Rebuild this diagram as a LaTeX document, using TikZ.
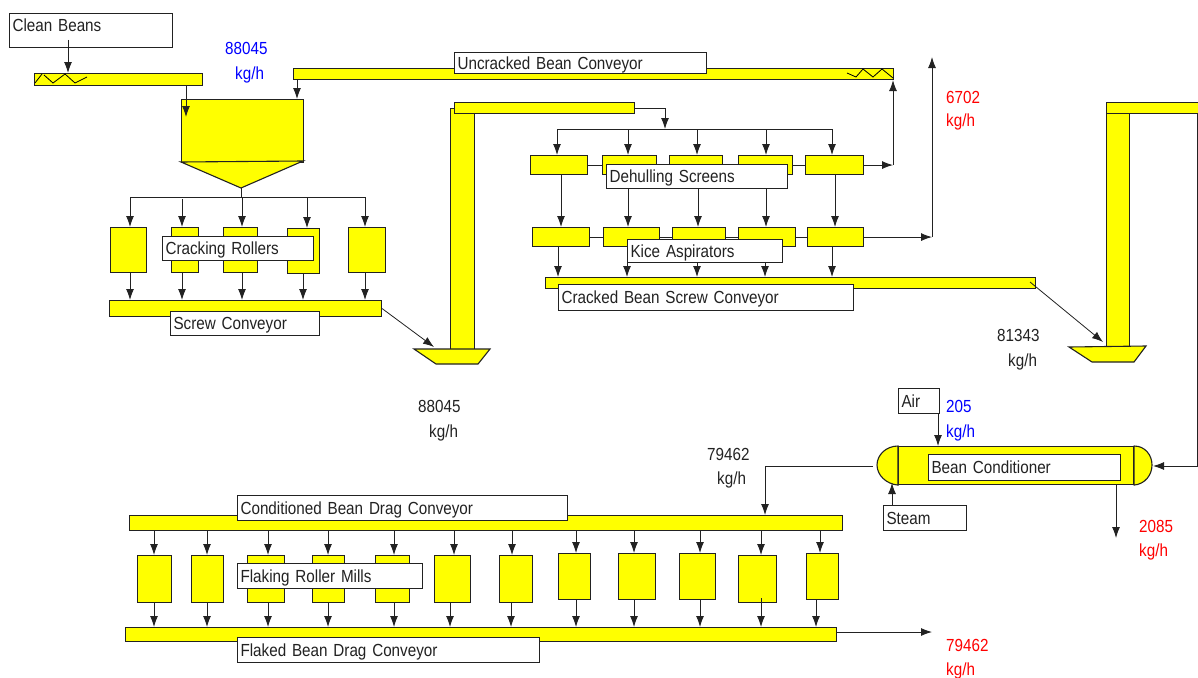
\documentclass[tikz,border=0pt]{standalone}
\usepackage{fontspec}
\setmainfont{Liberation Sans}[FakeStretch=0.87,WordSpace=0.6]
\usetikzlibrary{arrows.meta}
\definecolor{inkgrey}{HTML}{222222}
\definecolor{beanyellow}{RGB}{255,255,0}
\definecolor{ratered}{RGB}{255,0,0}
\definecolor{rateblue}{RGB}{0,0,255}
\tikzset{
  equip/.style={draw=inkgrey,fill=beanyellow,line width=1.1pt,anchor=north west,inner sep=0pt},
  namebox/.style={draw=inkgrey,fill=white,line width=1.1pt,anchor=north west,inner xsep=3pt,inner ysep=0pt,align=left,text height=12pt,text depth=0pt},
  flow/.style={draw=inkgrey,line width=.9pt,-{Latex[length=11pt,width=8pt]}},
  pipe/.style={draw=inkgrey,line width=.9pt},
  rate/.style={anchor=west,inner sep=0pt,text height=12pt,text depth=0pt},
}

\begin{document}
\begin{tikzpicture}[x=1pt,y=-1pt,font=\fontsize{17.5}{20}\selectfont,text=inkgrey]
  \useasboundingbox (0,0) rectangle (1198,677);
  % conveyors on top
  \node[equip,minimum width=168,minimum height=12] (feedconv) at (34,73) {};
  \node[equip,minimum width=600,minimum height=11] (uncracked) at (293,68) {};
  \draw[line width=.8pt] (35,83)--(42,74) (44,75)--(53,83)--(65,74)--(75,83)--(87,77);
  \draw[line width=.8pt] (847,73)--(856,77)--(863,69)--(873,77)--(882,69)--(893,78);
  % hopper
  \node[equip,minimum width=122,minimum height=63] (hopper) at (181,99) {};
  \draw[draw=inkgrey,fill=beanyellow,line width=1.1pt] (181,162)--(303,161)--(241,188)--cycle;
  \coordinate (hoppertip) at (241,188);
  \coordinate (feedtop) at (68,40);
  \draw[flow] (feedconv.south -| 186,0)--(186,117);
  \draw[flow] (uncracked.south -| 297,0)--(hopper.north -| 297,0);
  % cracking rollers
  \coordinate (crackhdrL) at (130,197);
  \coordinate (crackhdrR) at (365,197);
  \draw[pipe] (hoppertip)--(hoppertip |- crackhdrL);
  \draw[pipe] (crackhdrL)--(crackhdrR);
  \node[equip,minimum width=36,minimum height=45] (crack1) at (110,227) {};
  \node[equip,minimum width=27,minimum height=45] (crack2) at (171,227) {};
  \node[equip,minimum width=34,minimum height=45] (crack3) at (223,227) {};
  \node[equip,minimum width=32,minimum height=45] (crack4) at (287,228) {};
  \node[equip,minimum width=37,minimum height=45] (crack5) at (348,227) {};
  \node[equip,minimum width=272,minimum height=16] (screw) at (109,300) {};
  \draw[flow] (crackhdrL)--(crack1.north -| crackhdrL);
  \draw[flow] (182,199)--(crack2.north -| 182,0);
  \draw[flow] (242,197)--(crack3.north -| 242,0);
  \draw[flow] (307,197)--(crack4.north -| 307,0);
  \draw[flow] (crackhdrR)--(crack5.north -| crackhdrR);
  \draw[flow] (crack1.south -| 130,0)--(screw.north -| 130,0);
  \draw[flow] (crack2.south -| 182,0)--(screw.north -| 182,0);
  \draw[flow] (crack3.south -| 242,0)--(screw.north -| 242,0);
  \draw[flow] (crack4.south -| 303,0)--(screw.north -| 303,0);
  \draw[flow] (crack5.south -| 365,0)--(screw.north -| 365,0);
  % first elevator
  \node[equip,minimum width=24,minimum height=241] (shaft1) at (450,108) {};
  \node[equip,minimum width=180,minimum height=11] (head1) at (454,102) {};
  \draw[draw=inkgrey,fill=beanyellow,line width=1.1pt] (414,349)--(490,349)--(478,364)--(436,364)--cycle;
  \coordinate (bootin1) at (434,347);
  \draw[flow,line width=.8pt] (screw.east)--(bootin1);
  % dehulling screens
  \coordinate (screenhdrL) at (557,129);
  \coordinate (screenhdrR) at (832,129);
  \coordinate (screenfeed) at (665,129);
  \draw[pipe] (screenhdrL)--(screenhdrR);
  \draw[flow] (head1.east) -| (screenfeed);
  \node[equip,minimum width=57,minimum height=19] (screen1) at (530,155) {};
  \node[equip,minimum width=54,minimum height=19] (screen2) at (602,155) {};
  \node[equip,minimum width=53,minimum height=19] (screen3) at (669,155) {};
  \node[equip,minimum width=54,minimum height=19] (screen4) at (738,155) {};
  \node[equip,minimum width=58,minimum height=19] (screen5) at (805,155) {};
  \draw[pipe] (screen1)--(screen2);
  \draw[pipe] (screen2)--(screen3);
  \draw[pipe] (screen3)--(screen4);
  \draw[pipe] (screen4)--(screen5);
  \draw[flow] (screenhdrL)--(screen1.north -| screenhdrL);
  \draw[flow] (628,129)--(screen2.north -| 628,0);
  \draw[flow] (697,129)--(screen3.north -| 697,0);
  \draw[flow] (766,129)--(screen4.north -| 766,0);
  \draw[flow] (screenhdrR)--(screen5.north -| screenhdrR);
  \coordinate (returnup) at (screen5.east -| 893,0);
  \draw[flow] (screen5.east)--(returnup);
  \draw[flow] (returnup)--(uncracked.south -| returnup);
  % kice aspirators
  \node[equip,minimum width=57,minimum height=19] (asp1) at (532,227) {};
  \node[equip,minimum width=56,minimum height=19] (asp2) at (603,227) {};
  \node[equip,minimum width=53,minimum height=19] (asp3) at (672,227) {};
  \node[equip,minimum width=57,minimum height=19] (asp4) at (738,227) {};
  \node[equip,minimum width=56,minimum height=19] (asp5) at (807,227) {};
  \draw[pipe] (asp1)--(asp2);
  \draw[pipe] (asp2)--(asp3);
  \draw[pipe] (asp3)--(asp4);
  \draw[pipe] (asp4)--(asp5);
  \draw[flow] (screen1.south -| 561,0)--(asp1.north -| 561,0);
  \draw[flow] (screen2.south -| 628,0)--(asp2.north -| 628,0);
  \draw[flow] (screen3.south -| 698,0)--(asp3.north -| 698,0);
  \draw[flow] (screen4.south -| 766,0)--(asp4.north -| 766,0);
  \draw[flow] (screen5.south -| 835,0)--(asp5.north -| 835,0);
  \coordinate (ventcorner) at (asp5.east -| 932,0);
  \coordinate (venttop) at (932,57);
  \draw[flow] (asp5.east)--(ventcorner);
  \draw[flow] (ventcorner)--(venttop);
  \node[equip,minimum width=490,minimum height=11] (crackedconv) at (545,277) {};
  \draw[flow] (asp1.south -| 558,0)--(crackedconv.north -| 558,0);
  \draw[flow] (asp2.south -| 627,0)--(crackedconv.north -| 627,0);
  \draw[flow] (asp3.south -| 697,0)--(crackedconv.north -| 697,0);
  \draw[flow] (asp4.south -| 765,0)--(crackedconv.north -| 765,0);
  \draw[flow] (asp5.south -| 832,0)--(crackedconv.north -| 832,0);
  % second elevator
  \node[equip,minimum width=23,minimum height=244] (shaft2) at (1106,102) {};
  \node[equip,minimum width=94,minimum height=11] (head2) at (1106,102) {};
  \draw[draw=inkgrey,fill=beanyellow,line width=1.1pt] (1069,347)--(1146,346)--(1134,362)--(1092,362)--cycle;
  \coordinate (crackedout) at (1030,282);
  \coordinate (bootin2) at (1103,342);
  \draw[flow,line width=.8pt] (crackedout)--(bootin2);
  % conditioner
  \node[equip,minimum width=235,minimum height=38] (cond) at (898,446) {};
  \draw[draw=inkgrey,fill=beanyellow,line width=1.1pt] (cond.north west) .. controls (886,446) and (877,455) .. (877,465) .. controls (877,475) and (886,484) .. (cond.south west)--cycle;
  \draw[draw=inkgrey,fill=beanyellow,line width=1.1pt] (cond.north east) .. controls (1145,446) and (1152,455) .. (1152,465) .. controls (1152,475) and (1145,484) .. (cond.south east)--cycle;
  \coordinate (condin) at (1153,466);
  \coordinate (condout) at (873,466);
  \coordinate (condvent) at (1116,538);
  \draw[flow] (head2.south -| 1197,0) |- (condin);
  \draw[flow] (cond.south -| condvent)--(condvent);
  % flaking roller mills
  \node[equip,minimum width=713,minimum height=15] (dragconv) at (129,515) {};
  \node[equip,minimum width=711,minimum height=14] (flakeconv) at (125,627) {};
  \draw[flow] (condout) -| (dragconv.north -| 765,0);
  \node[equip,minimum width=34,minimum height=47] (mill1) at (137,555) {};
  \node[equip,minimum width=32,minimum height=47] (mill2) at (191,555) {};
  \node[equip,minimum width=37,minimum height=47] (mill3) at (247,555) {};
  \node[equip,minimum width=32,minimum height=47] (mill4) at (312,555) {};
  \node[equip,minimum width=34,minimum height=47] (mill5) at (375,555) {};
  \node[equip,minimum width=36,minimum height=47] (mill6) at (434,555) {};
  \node[equip,minimum width=33,minimum height=47] (mill7) at (499,555) {};
  \node[equip,minimum width=32,minimum height=46] (mill8) at (558,553) {};
  \node[equip,minimum width=37,minimum height=46] (mill9) at (618,553) {};
  \node[equip,minimum width=36,minimum height=46] (mill10) at (679,553) {};
  \node[equip,minimum width=38,minimum height=47] (mill11) at (738,555) {};
  \node[equip,minimum width=32,minimum height=46] (mill12) at (806,553) {};
  \draw[flow] (dragconv.south -| 154,0)--(mill1.north -| 154,0);
  \draw[flow] (dragconv.south -| 207,0)--(mill2.north -| 207,0);
  \draw[flow] (dragconv.south -| 268,0)--(mill3.north -| 268,0);
  \draw[flow] (dragconv.south -| 328,0)--(mill4.north -| 328,0);
  \draw[flow] (dragconv.south -| 394,0)--(mill5.north -| 394,0);
  \draw[flow] (dragconv.south -| 454,0)--(mill6.north -| 454,0);
  \draw[flow] (dragconv.south -| 512,0)--(mill7.north -| 512,0);
  \draw[flow] (dragconv.south -| 576,0)--(mill8.north -| 576,0);
  \draw[flow] (dragconv.south -| 634,0)--(mill9.north -| 634,0);
  \draw[flow] (dragconv.south -| 700,0)--(mill10.north -| 700,0);
  \draw[flow] (dragconv.south -| 761,0)--(mill11.north -| 761,0);
  \draw[flow] (dragconv.south -| 820,0)--(mill12.north -| 820,0);
  \draw[flow] (mill1.south -| 154,0)--(flakeconv.north -| 154,0);
  \draw[flow] (mill2.south -| 207,0)--(flakeconv.north -| 207,0);
  \draw[flow] (mill3.south -| 268,0)--(flakeconv.north -| 268,0);
  \draw[flow] (mill4.south -| 328,0)--(flakeconv.north -| 328,0);
  \draw[flow] (mill5.south -| 394,0)--(flakeconv.north -| 394,0);
  \draw[flow] (mill6.south -| 450,0)--(flakeconv.north -| 450,0);
  \draw[flow] (mill7.south -| 511,0)--(flakeconv.north -| 511,0);
  \draw[flow] (mill8.south -| 576,0)--(flakeconv.north -| 576,0);
  \draw[flow] (mill9.south -| 634,0)--(flakeconv.north -| 634,0);
  \draw[flow] (mill10.south -| 700,0)--(flakeconv.north -| 700,0);
  \draw[flow] (761,598)--(flakeconv.north -| 761,0);
  \draw[flow] (mill12.south -| 816,0)--(flakeconv.north -| 816,0);
  \coordinate (flakeout) at (932,632);
  \draw[flow] (flakeconv.east |- flakeout)--(flakeout);
  % name boxes
  \node[namebox,text width=157pt,minimum height=34pt,text depth=10pt] (lblbeans) at (9,13) {Clean Beans};
  \node[namebox,text width=246pt,minimum height=21pt] (lbluncracked) at (454,52) {Uncracked Bean Conveyor};
  \node[namebox,text width=145pt,minimum height=24pt] (lblcrack) at (162,236) {Cracking Rollers};
  \node[namebox,text width=143pt,minimum height=24pt] (lblscrew) at (170,311) {Screw Conveyor};
  \node[namebox,text width=175pt,minimum height=24pt] (lbldehull) at (606,164) {Dehulling Screens};
  \node[namebox,text width=149pt,minimum height=23pt] (lblkice) at (627,239) {Kice Aspirators};
  \node[namebox,text width=289pt,minimum height=26pt] (lblcracked) at (558,284) {Cracked Bean Screw Conveyor};
  \node[namebox,text width=35pt,minimum height=25pt] (lblair) at (898,388) {Air};
  \node[namebox,text width=77pt,minimum height=25pt] (lblsteam) at (883,505) {Steam};
  \node[namebox,text width=186pt,minimum height=26pt] (lblcond) at (928,454) {Bean Conditioner};
  \node[namebox,text width=324pt,minimum height=25pt] (lbldrag) at (237,495) {Conditioned Bean Drag Conveyor};
  \node[namebox,text width=179pt,minimum height=25pt] (lblmills) at (237,563) {Flaking Roller Mills};
  \node[namebox,text width=296pt,minimum height=25pt] (lblflaked) at (237,637) {Flaked Bean Drag Conveyor};
  \draw[flow] (feedtop)--(feedconv.north -| feedtop);
  \draw[flow] (lblair.south -| 938,0)--(cond.north -| 938,0);
  \draw[flow] (lblsteam.north -| 892,0)--(892,483);
  % rates
  \node[rate,text=rateblue] (rateA) at (225,49) {88045};
  \node[rate,text=rateblue] (rateAu) at (235,73) {kg/h};
  \node[rate,text=ratered] (rateB) at (946,97) {6702};
  \node[rate,text=ratered] (rateBu) at (946,120) {kg/h};
  \node[rate] (rateC) at (997,335) {81343};
  \node[rate] (rateCu) at (1008,360) {kg/h};
  \node[rate] (rateD) at (418,406) {88045};
  \node[rate] (rateDu) at (429,431) {kg/h};
  \node[rate,text=rateblue] (rateE) at (946,406) {205};
  \node[rate,text=rateblue] (rateEu) at (946,431) {kg/h};
  \node[rate] (rateF) at (707,454) {79462};
  \node[rate] (rateFu) at (717,478) {kg/h};
  \node[rate,text=ratered] (rateG) at (1139,526) {2085};
  \node[rate,text=ratered] (rateGu) at (1139,550) {kg/h};
  \node[rate,text=ratered] (rateH) at (946,645) {79462};
  \node[rate,text=ratered] (rateHu) at (946,669) {kg/h};
\end{tikzpicture}
\end{document}
